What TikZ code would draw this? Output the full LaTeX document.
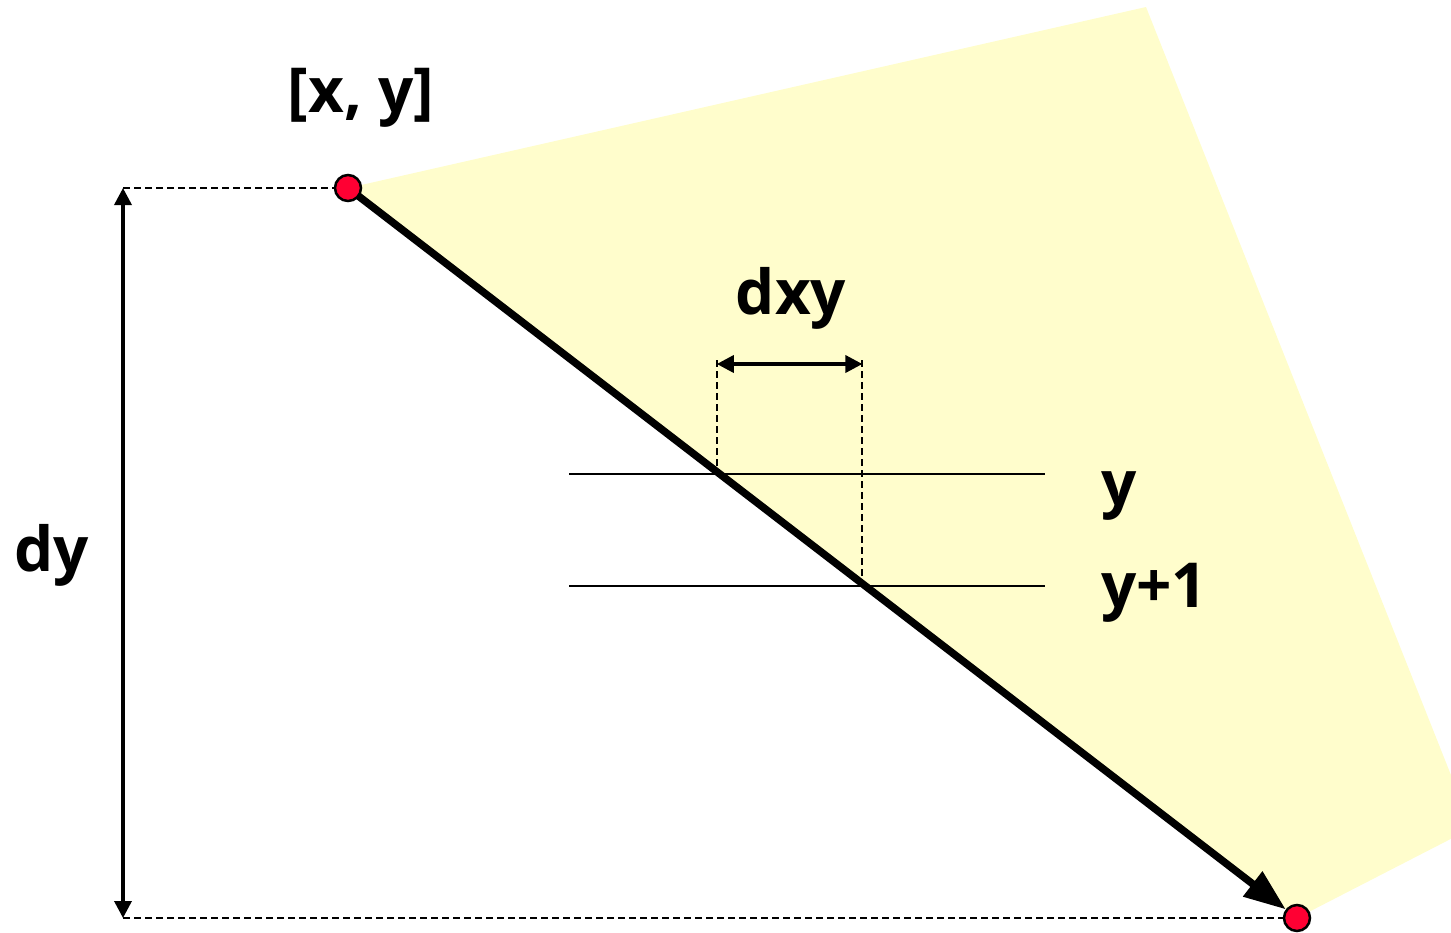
\documentclass[tikz,border=0pt]{standalone}
\usepackage{fontspec}
\setmainfont{Open Sans}[BoldFont={Open Sans Bold}]
\usetikzlibrary{arrows.meta,calc}
\definecolor{fillyellow}{RGB}{255,253,204}
\definecolor{dotred}{RGB}{255,0,51}
\begin{document}
\begin{tikzpicture}[x=1pt,y=-1pt,
  lbl/.style={font=\fontsize{62}{70}\selectfont\bfseries, inner sep=0pt},
  dot/.style={circle, fill=dotred, draw=black, line width=2.5pt, minimum size=26pt, inner sep=0pt},
  guide/.style={line width=2pt, dash pattern=on 7pt off 4pt},
  thinline/.style={line width=2.6pt},
  dim/.style={line width=3.5pt, {Triangle[length=17pt,width=17pt]}-{Triangle[length=17pt,width=17pt]}},
  mainline/.style={line width=7.5pt, -{Triangle[length=42pt,width=30pt]}, shorten >=14pt}]
\useasboundingbox (0,0) rectangle (1451,932);
\begin{scope}
\clip (0,0) rectangle (1451,932);
\fill[fillyellow] (348,188) -- (1146,7) -- (1472,828) -- (1297,918) -- cycle;
\end{scope}
\coordinate (A) at (348,188);
\coordinate (B) at (1297,918);
\coordinate (h1s) at (569,474);
\coordinate (h1e) at (1045,474);
\coordinate (h2s) at (569,586);
\coordinate (h2e) at (1045,586);
\coordinate (I1) at (intersection of A--B and h1s--h1e);
\coordinate (I2) at (intersection of A--B and h2s--h2e);
\coordinate (T1) at ($(I1|-0,360)+(-3,0)$);
\coordinate (T2) at ($(I2|-0,360)+(-3,0)$);
\coordinate (B1) at ($(I1)+(-3,0)$);
\coordinate (B2) at ($(I2)+(-3,0)$);
\coordinate (D1) at ($(I1|-0,364)+(-3,0)$);
\coordinate (D2) at ($(I2|-0,364)+(-3,0)$);
\coordinate (L1) at (123,188);
\coordinate (L2) at (123,918);
% horizontal lines
\draw[thinline] (h1s) -- (h1e);
\draw[thinline] (h2s) -- (h2e);
% dashed guides
\draw[guide] (L1) -- (A);
\draw[guide] (L2) -- (B);
\draw[guide] (T1) -- (B1);
\draw[guide] (T2) -- (B2);
% dimension arrows
\draw[dim] (L1) -- (L2);
\draw[dim] (D1) -- (D2);
% main line
\draw[mainline] (A) -- (B);
\node[dot] (pA) at (A) {};
\node[dot] (pB) at (B) {};
% labels
\node[lbl] (txy) at (361,98) {[x, y]};
\node[lbl] (tdy) at (52,555) {dy};
\node[lbl] (tdxy) at (791,298) {dxy};
\node[lbl, anchor=base west] (ty) at (1101,505) {y};
\node[lbl, anchor=base west] (ty1) at (1101,607) {y+1};
\end{tikzpicture}
\end{document}
